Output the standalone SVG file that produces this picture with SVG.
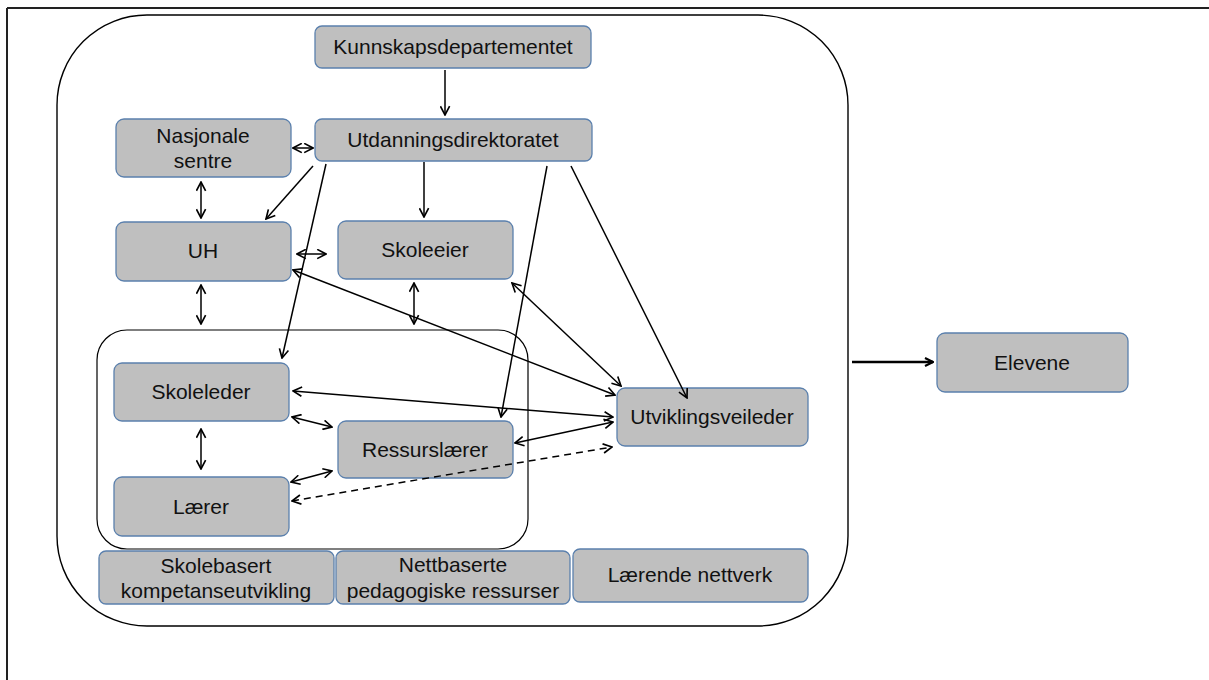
<svg xmlns="http://www.w3.org/2000/svg" width="1209" height="680" viewBox="0 0 1209 680">
<style>
.node rect{fill:#bfbfbf;stroke:#5b80ad;stroke-width:1.3}
.node text{font-family:"Liberation Sans",Arial,sans-serif;font-size:21px;fill:#111;text-anchor:middle}
.c line{stroke:#000;stroke-width:1.5;fill:none}
.d{marker-start:url(#a);marker-end:url(#a)}
.s{marker-end:url(#a)}
</style>
<defs>
<marker id="a" viewBox="0 0 10 10" refX="9" refY="5" markerWidth="11" markerHeight="11" markerUnits="userSpaceOnUse" orient="auto-start-reverse"><path d="M1,0.8 L9,5 L1,9.2" fill="none" stroke="#000" stroke-width="1.5"/></marker>
<marker id="b" viewBox="0 0 10 10" refX="9" refY="5" markerWidth="10" markerHeight="10" markerUnits="userSpaceOnUse" orient="auto"><path d="M1,1 L9,5 L1,9" fill="none" stroke="#000" stroke-width="2.2"/></marker>
</defs>
<rect width="1209" height="680" fill="#fff"/>
<g id="frame">
<line x1="7" y1="8" x2="1209" y2="8" stroke="#222" stroke-width="2"/>
<line x1="7" y1="8" x2="7" y2="680" stroke="#222" stroke-width="2"/>
</g>
<g id="system">
<rect x="57" y="15" width="791" height="611" rx="90" ry="90" fill="none" stroke="#000" stroke-width="1.4"/>
</g>
<g id="school">
<rect x="97" y="330" width="431" height="219" rx="30" ry="30" fill="none" stroke="#000" stroke-width="1.2"/>
</g>
<g id="kd" class="node"><rect x="315" y="26" width="276" height="42" rx="7"/><text x="453" y="54">Kunnskapsdepartementet</text></g>
<g id="udir" class="node"><rect x="315" y="119" width="277" height="42" rx="7"/><text x="453" y="147">Utdanningsdirektoratet</text></g>
<g id="nasjonale" class="node"><rect x="116" y="119" width="175" height="58" rx="8"/><text x="203" y="143">Nasjonale</text><text x="203" y="168">sentre</text></g>
<g id="uh" class="node"><rect x="116" y="222" width="175" height="59" rx="8"/><text x="203" y="258">UH</text></g>
<g id="skoleeier" class="node"><rect x="338" y="221" width="175" height="58" rx="8"/><text x="425" y="257">Skoleeier</text></g>
<g id="skoleleder" class="node"><rect x="114" y="363" width="175" height="58" rx="8"/><text x="201" y="399">Skoleleder</text></g>
<g id="ressurslaerer" class="node"><rect x="338" y="421" width="175" height="57" rx="8"/><text x="425" y="457">Ressurslærer</text></g>
<g id="laerer" class="node"><rect x="114" y="477" width="175" height="59" rx="8"/><text x="201" y="514">Lærer</text></g>
<g id="utviklingsveileder" class="node"><rect x="617" y="388" width="191" height="58" rx="8"/><text x="712" y="424">Utviklingsveileder</text></g>
<g id="elevene" class="node"><rect x="937" y="333" width="191" height="59" rx="8"/><text x="1032" y="370">Elevene</text></g>
<g id="skolebasert" class="node"><rect x="99" y="551" width="235" height="53" rx="7"/><text x="216" y="573">Skolebasert</text><text x="216" y="598">kompetanseutvikling</text></g>
<g id="nettbaserte" class="node"><rect x="336" y="551" width="234" height="53" rx="7"/><text x="453" y="572">Nettbaserte</text><text x="453" y="598">pedagogiske ressurser</text></g>
<g id="laerende" class="node"><rect x="573" y="549" width="235" height="53" rx="7"/><text x="690" y="582">Lærende nettverk</text></g>
<g id="connectors" class="c">
<line class="s" x1="445" y1="70" x2="445" y2="115"/>
<line class="d" x1="293" y1="148" x2="313" y2="148"/>
<line class="s" x1="313" y1="166" x2="266" y2="219"/>
<line class="s" x1="326" y1="164" x2="282" y2="358"/>
<line class="s" x1="424" y1="162" x2="424" y2="217"/>
<line class="s" x1="547" y1="166" x2="501" y2="417"/>
<line class="s" x1="571" y1="166" x2="687" y2="398"/>
<line class="d" x1="201" y1="182" x2="201" y2="218"/>
<line class="d" x1="297" y1="254" x2="326" y2="254"/>
<line class="d" x1="201" y1="285" x2="201" y2="324"/>
<line class="d" x1="414" y1="283" x2="414" y2="324"/>
<line class="d" x1="293" y1="270" x2="615" y2="395"/>
<line class="d" x1="512" y1="283" x2="621" y2="386"/>
<line class="d" x1="293" y1="391" x2="613" y2="417"/>
<line class="d" x1="292" y1="417" x2="332" y2="427"/>
<line class="d" x1="201" y1="429" x2="201" y2="469"/>
<line class="d" x1="291" y1="482" x2="332" y2="471"/>
<line class="d" x1="515" y1="443" x2="613" y2="422"/>
<line class="d" x1="292" y1="501" x2="612" y2="447" stroke-dasharray="7,5"/>
<line x1="852" y1="362" x2="933" y2="362" style="stroke-width:2.5" marker-end="url(#b)"/>
</g>
</svg>
